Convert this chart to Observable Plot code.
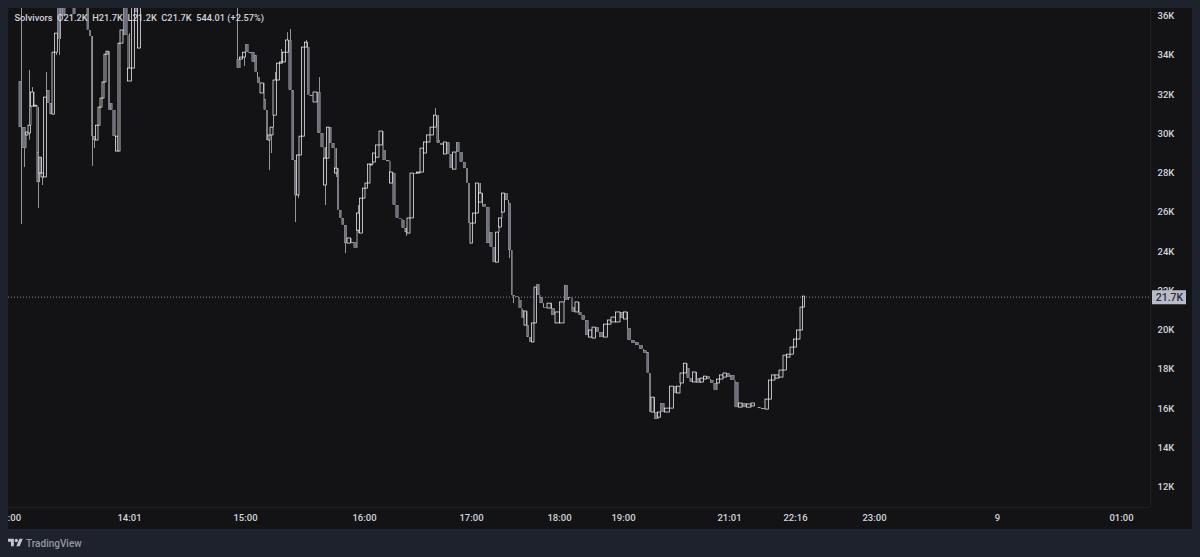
<!DOCTYPE html>
<html><head><meta charset="utf-8">
<script src="https://cdn.jsdelivr.net/npm/d3@7"></script>
<script src="https://cdn.jsdelivr.net/npm/@observablehq/plot@0.6"></script>
<style>
html,body{margin:0;padding:0;background:#1e222d;width:1200px;height:557px;overflow:hidden}
#chart{position:absolute;left:8px;top:8px;width:1184px;height:521px;background:#131316;overflow:hidden}
#chart svg{display:block;overflow:hidden;background:transparent}
#brand{position:absolute;left:8px;top:536px;height:14px;display:flex;align-items:center;gap:3px;color:#9598a1;font:500 10px Roboto,sans-serif}
</style></head><body>
<div id="chart"></div>
<div id="brand"><svg width="15" height="12" viewBox="0 0 36 28" fill="#c3c6ce"><path d="M14 22H7V11H0V4h14v18zM28 22h-8l7.5-18h8L28 22z"/><circle cx="20" cy="8" r="4"/></svg><span>TradingView</span></div>
<script>
const symbolName = "Solvivors";
const ohlcText = "O21.2K\u00a0\u00a0H21.7K\u00a0\u00a0L21.2K\u00a0\u00a0C21.7K\u00a0\u00a0544.01\u00a0(+2.57%)";
const lastPrice = 21.7;
const lastLabel = "21.7K";
const yTicks = [12,14,16,18,20,22,24,26,28,30,32,34,36];
const xTickSlots = [-6,109,225,344,451,539,603,709,775,854,977,1101];
const xTickLabels = [":00","14:01","15:00","16:00","17:00","18:00","19:00","21:01","22:16","23:00","9","01:00"];

const slots = [
0,4,7,9,12,15,18,20,22,25,
28,31,33,36,39,41,44,54,68,70,
72,74,77,79,81,83,85,87,89,91,
94,97,99,101,105,110,113,116,119,
218,221,224,227,230,233,236,238,242,245,
247,249,251,255,258,261,264,267,270,273,
275,278,280,283,286,288,291,295,299,302,
305,308,310,313,316,318,320,323,325,329,
332,335,338,341,344,346,349,351,354,357,
361,364,368,371,374,377,380,383,386,388,
392,395,398,402,405,408,412,415,418,422,
425,428,431,434,438,441,445,447,449,451,
454,457,460,464,468,471,474,477,480,483,
486,490,492,493,497,500,503,505,508,510,
513,515,518,521,525,529,533,537,542,546,
550,553,557,560,563,567,570,574,577,581,
586,589,593,598,602,605,609,613,617,621,
625,628,630,632,636,639,642,647,652,655,
658,662,665,668,671,674,678,682,685,688,
692,695,698,701,705,708,712,717,720,724,
729,733,739,743,747,750,753,757,761,765,
768,772,775,778,782,783
];
const opens = [
32.69,30.34,29.94,30.04,31.41,31.41,29.07,28.0,27.8,27.8,
32.23,31.57,31.0,34.16,36.5,37,36.9,37,36.6,35.29,
34.98,29.88,29.68,30.44,31.36,31.82,32.64,34.06,34.21,31.57,
31.21,29.12,29.12,34.62,36.6,32.69,33.35,36.9,34.37,
33.81,33.81,33.91,34.57,34.16,34.16,34.01,32.89,32.08,31.77,
31.21,29.68,29.94,30.95,32.74,33.6,33.66,34.16,34.78,32.23,
28.66,26.88,28.92,29.88,34.42,34.42,31.97,31.62,32.13,30.04,
27.39,28.76,30.34,29.53,28.0,28.25,26.12,25.71,25.35,24.43,
24.48,24.48,25.09,24.94,26.72,27.23,27.49,28.41,28.56,28.81,
29.43,29.17,28.66,27.49,28.0,26.37,25.71,25.6,25.2,24.94,
25.71,28.0,28.0,28.05,29.02,29.58,29.94,30.34,29.68,29.53,
28.97,29.58,28.97,28.2,29.58,29.07,28.56,28.25,27.49,24.43,
25.45,25.96,26.52,26.42,26.27,24.99,24.23,23.46,25.25,26.01,
26.98,26.47,24.07,21.78,21.73,21.53,21.02,20.25,20.25,19.64,
19.39,20.36,22.34,21.68,21.17,21.12,21.12,20.36,20.36,22.29,
21.68,21.17,20.92,20.92,20.76,20.51,19.64,19.59,20.15,19.9,
19.64,20.3,20.41,20.41,20.92,20.56,20.1,19.49,19.39,19.23,
18.98,18.88,17.81,15.82,15.82,15.56,16.28,15.82,16.02,17.14,
16.79,17.3,17.81,18.06,17.55,17.35,17.55,17.35,17.5,17.65,
17.45,17.3,17.3,17.5,17.6,17.81,17.71,17.35,16.07,16.28,
16.07,16.13,16.07,16.02,15.97,16.48,17.45,17.55,17.6,17.96,
18.62,18.77,19.13,19.54,20.0,21.17
];
const closes = [
30.34,29.27,30.09,30.44,32.13,31.46,27.54,28.81,28.0,31.87,
31.57,31.0,34.16,35.13,34.83,36.0,36.05,36.1,35.29,34.98,
29.88,29.68,30.44,31.36,31.82,32.64,34.06,34.21,31.21,31.21,
29.88,29.88,34.62,35.29,35.03,33.35,36.6,36.2,36.6,
33.35,33.91,34.16,34.16,34.11,33.66,33.15,32.59,32.59,31.21,
29.68,29.94,30.34,32.74,33.6,33.66,34.16,34.78,32.23,28.66,
26.88,28.92,29.88,34.42,34.67,32.0,31.92,32.13,30.04,29.32,
28.76,30.34,29.53,29.27,28.25,26.12,25.71,25.35,24.43,24.69,
24.43,24.18,25.96,26.72,27.23,27.49,28.46,28.46,29.02,29.43,
30.14,28.66,28.6,28.05,26.37,25.71,25.66,25.2,24.99,25.71,
28.0,27.95,28.05,29.27,29.58,29.94,30.34,30.95,29.53,29.43,
29.58,28.97,28.25,29.07,29.07,28.56,28.25,27.49,25.45,25.45,
25.96,27.49,26.98,26.27,24.43,24.23,23.46,24.99,25.71,26.98,
26.62,24.07,21.78,21.73,21.68,21.12,20.61,20.97,19.64,19.39,
20.36,22.19,21.78,21.37,21.12,21.37,20.76,20.92,21.43,21.53,
21.63,20.92,21.43,20.76,20.51,19.74,20.0,20.15,19.9,19.64,
20.3,20.51,20.66,20.92,20.61,20.92,19.49,19.34,19.23,19.03,
18.83,17.81,15.82,16.58,15.46,15.82,15.82,16.02,17.14,16.79,
17.14,17.81,18.31,17.55,17.35,17.86,17.3,17.55,17.65,17.5,
17.3,16.94,17.5,17.71,17.81,17.6,17.45,16.07,16.28,16.07,
16.23,16.28,16.02,15.97,16.48,17.45,17.71,17.71,17.96,18.72,
18.77,19.13,19.54,20.0,21.17,21.73
];
const wickSlots = [1,4,9,12,18,18,22,26,36,39,72,74,109,
217,224,249,251,255,261,267,270,275,278,286,299,305,316,325,338,386,415,418,460,489,493];
const wickHighs = [36.41,30.34,33.25,32.38,31.36,29.07,28.0,33.15,35.13,34.83,34.98,29.88,35.13,
36.41,34.16,29.94,30.34,33.15,34.32,35.18,35.34,28.66,28.92,34.78,32.89,29.32,29.27,25.35,26.37,25.2,31.31,30.95,27.49,26.47,21.78];
const wickLows = [25.4,28.3,29.7,31.41,29.07,26.22,27.39,31.87,34.01,34.01,28.36,29.27,33.35,
33.35,33.45,28.15,29.02,30.95,33.6,34.16,32.23,25.5,26.72,34.42,30.04,26.37,27.8,23.92,24.94,24.79,30.34,29.53,26.52,23.67,21.37];

const candles = slots.map((s,i)=>({
  s, open:opens[i], close:closes[i],
  x1:(i>0&&s-slots[i-1]<=5)?(s+slots[i-1])/2:s-1.4,
  x2:(i<slots.length-1&&slots[i+1]-s<=5)?(s+slots[i+1])/2:s+1.4,
  prev:(i>0&&s-slots[i-1]<=5)?closes[i-1]:opens[i]
}));
const wicks = wickSlots.map((s,i)=>({s,h:wickHighs[i],l:wickLows[i]}));
const up = candles.filter(d=>d.close>=d.open);
const down = candles.filter(d=>d.close<d.open);
const W=1184,H=521,ML=0,MR=42,MT=0,MB=22;
const xd=[-12,1130], yd=[10.98,36.41];
const font="Roboto, sans-serif";

const chart = Plot.plot({
  width:W,height:H,marginLeft:ML,marginRight:MR,marginTop:MT,marginBottom:MB,
  style:{background:"transparent",fontFamily:font,fontSize:"9.5px",overflow:"hidden"},
  x:{domain:xd,range:[ML,W-MR]},
  y:{domain:yd,range:[H-MB,MT]},
  marks:[
    Plot.ruleY([yd[0]],{stroke:"#202125"}),
    Plot.ruleX([xd[1]],{stroke:"#202125"}),
    Plot.ruleY([lastPrice],{stroke:"#a8abb4",strokeWidth:0.8,strokeDasharray:"1,2"}),
    Plot.ruleX(wicks,{x:"s",y1:"h",y2:"l",stroke:"#b4b7bf",strokeWidth:0.8,clip:true}),
    Plot.ruleX(candles,{x:"x1",y1:"prev",y2:"open",stroke:"#e6e7ea",strokeWidth:0.7,clip:true}),
    Plot.rect(down,{x1:"x1",x2:"x2",y1:"open",y2:"close",inset:0.3,fill:"#6c6f7a",stroke:"#a4a7b0",strokeWidth:0.5,clip:true}),
    Plot.rect(up,{x1:"x1",x2:"x2",y1:"open",y2:"close",fill:"#1a1a1e",stroke:"#ffffff",strokeWidth:0.7,clip:true}),
    Plot.axisY({anchor:"right",ticks:yTicks,tickSize:0,tickPadding:7,dy:-0.5,tickFormat:d=>d+"K",fill:"#d1d4dc",fontWeight:500,label:null}),
    Plot.axisX({anchor:"bottom",ticks:xTickSlots,tickSize:0,tickPadding:7,tickFormat:d=>xTickLabels[xTickSlots.indexOf(d)],fill:"#d1d4dc",fontWeight:500,label:null}),
    Plot.ruleY([lastPrice],{x1:1132,x2:1166,stroke:"#b8bcc8",strokeWidth:14}),
    Plot.text([lastLabel],{x:1149,y:[lastPrice],fill:"#2a2e39",fontWeight:500,fontSize:10.5}),
    Plot.text([symbolName+"\u00a0\u00a0"+ohlcText],{frameAnchor:"top-left",dx:6,dy:6,fill:"#d1d4dc",fontWeight:500,fontSize:9.25,textAnchor:"start"})
  ]
});
document.getElementById("chart").appendChild(chart);
</script></body></html>
